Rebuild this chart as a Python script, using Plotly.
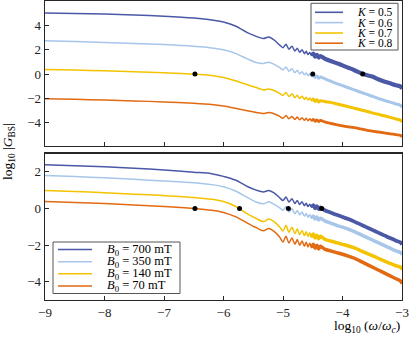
import plotly.graph_objects as go

# ---------------- data ----------------
log_omega = [-9.0, -8.5, -8.0, -7.5, -7.0, -6.5, -6.2, -6.0, -5.8, -5.6, -5.45, -5.33, -5.24, -5.15, -5.06,
             -5.00, -4.95, -4.90, -4.85, -4.80, -4.76, -4.72, -4.68, -4.64, -4.61, -4.58, -4.55, -4.52, -4.49,
             -4.46, -4.43, -4.40, -4.37,
             -4.3, -4.2, -4.1, -4.0, -3.9, -3.8, -3.7, -3.6, -3.5, -3.4, -3.3, -3.2, -3.1, -3.03, -3.0]

k_labels = ["<i>K</i> = 0.5", "<i>K</i> = 0.6", "<i>K</i> = 0.7", "<i>K</i> = 0.8"]
g_K05 = [5.02, 4.98, 4.93, 4.85, 4.75, 4.6, 4.45, 4.27, 3.95, 3.4, 3.1, 2.92, 3.05, 2.8, 2.4,
         2.17, 2.45, 2.04, 2.28, 1.90, 2.13, 1.79, 2.00, 1.68, 1.88, 1.60, 1.78, 1.52, 1.68, 1.44, 1.58, 1.36, 1.48,
         1.28, 1.08, 0.9, 0.72, 0.52, 0.32, 0.1, -0.08, -0.2, -0.42, -0.6, -0.76, -0.92, -1.0, -1.2]
g_K06 = [2.73, 2.68, 2.6, 2.52, 2.42, 2.28, 2.15, 2.0, 1.7, 1.25, 0.95, 0.88, 0.98, 0.8, 0.55,
         0.35, 0.58, 0.24, 0.44, 0.12, 0.32, 0.03, 0.20, -0.06, 0.10, -0.13, 0.02, -0.20, -0.06, -0.27, -0.15, -0.34, -0.23,
         -0.38, -0.58, -0.78, -0.95, -1.12, -1.3, -1.47, -1.65, -1.82, -2.0, -2.15, -2.3, -2.45, -2.55, -2.72]
g_K07 = [0.38, 0.33, 0.27, 0.2, 0.12, 0.0, -0.12, -0.28, -0.55, -0.88, -1.1, -1.3, -1.22, -1.35, -1.58,
         -1.75, -1.51, -1.84, -1.62, -1.93, -1.73, -2.00, -1.82, -2.08, -1.90, -2.13, -1.97, -2.18, -2.04, -2.24, -2.11, -2.29, -2.18,
         -2.25, -2.32, -2.43, -2.55, -2.68, -2.8, -2.92, -3.05, -3.18, -3.3, -3.42, -3.55, -3.68, -3.78, -3.92]
g_K08 = [-2.02, -2.07, -2.13, -2.2, -2.28, -2.4, -2.5, -2.62, -2.8, -3.0, -3.15, -3.24, -3.15, -3.25, -3.45,
         -3.63, -3.40, -3.67, -3.47, -3.72, -3.53, -3.75, -3.58, -3.79, -3.63, -3.82, -3.67, -3.84, -3.71, -3.87, -3.75, -3.90, -3.79,
         -3.92, -4.05, -4.15, -4.25, -4.33, -4.4, -4.5, -4.6, -4.68, -4.75, -4.82, -4.9, -4.97, -5.02, -5.15]

b_labels = ["<i>B</i><sub>0</sub> = 700 mT", "<i>B</i><sub>0</sub> = 350 mT",
            "<i>B</i><sub>0</sub> = 140 mT", "<i>B</i><sub>0</sub> = 70 mT"]
g_B700 = [2.39, 2.33, 2.27, 2.19, 2.1, 1.98, 1.9, 1.75, 1.55, 1.2, 1.0, 0.9, 0.98, 0.85, 0.6,
          0.43, 0.62, 0.35, 0.53, 0.27, 0.44, 0.21, 0.36, 0.15, 0.29, 0.10, 0.23, 0.06, 0.18, 0.01, 0.12, -0.04, 0.06,
          -0.1, -0.22, -0.35, -0.47, -0.58, -0.72, -0.87, -1.02, -1.17, -1.32, -1.47, -1.62, -1.76, -1.85, -1.97]
g_B350 = [1.8, 1.74, 1.67, 1.59, 1.5, 1.4, 1.3, 1.18, 0.95, 0.6, 0.35, 0.25, 0.36, 0.22, 0.05,
          -0.11, 0.10, -0.20, -0.02, -0.29, -0.11, -0.35, -0.20, -0.42, -0.28, -0.48, -0.34, -0.53, -0.41, -0.58, -0.47, -0.63, -0.54,
          -0.68, -0.8, -0.92, -1.02, -1.13, -1.27, -1.42, -1.57, -1.72, -1.87, -2.02, -2.17, -2.32, -2.4, -2.52]
g_B140 = [0.98, 0.92, 0.86, 0.78, 0.7, 0.6, 0.5, 0.38, 0.12, -0.3, -0.55, -0.72, -0.58, -0.72, -1.0,
          -1.23, -0.92, -1.30, -1.03, -1.37, -1.12, -1.43, -1.20, -1.49, -1.27, -1.53, -1.33, -1.57, -1.40, -1.62, -1.46, -1.66, -1.52,
          -1.68, -1.78, -1.87, -1.96, -2.05, -2.16, -2.3, -2.44, -2.58, -2.72, -2.86, -3.0, -3.13, -3.2, -3.32]
g_B70 = [0.38, 0.33, 0.27, 0.19, 0.11, 0.0, -0.1, -0.22, -0.45, -0.8, -1.05, -1.22, -1.1, -1.25, -1.55,
         -1.83, -1.52, -1.89, -1.61, -1.96, -1.70, -2.01, -1.78, -2.06, -1.84, -2.10, -1.90, -2.14, -1.96, -2.17, -2.01, -2.21, -2.07,
         -2.22, -2.32, -2.41, -2.5, -2.6, -2.72, -2.88, -3.04, -3.2, -3.36, -3.52, -3.68, -3.84, -3.95, -4.1]

top_dots_x = [-6.48, -4.50, -3.66]
top_dots_y = [0.0, 0.0, 0.0]
bottom_dots_x = [-6.48, -5.73, -4.91, -4.35]
bottom_dots_y = [0.0, 0.0, 0.0, 0.0]

x_ticks = [-9, -8, -7, -6, -5, -4, -3]
top_y_ticks = [4, 2, 0, -2, -4]
bottom_y_ticks = [2, 0, -2, -4]

# ---------------- style ----------------
colors = ["#4b58a6", "#a7c6ea", "#f3c300", "#e26a12"]
FONT = "Liberation Serif, Times New Roman, serif"
AX = "#262626"
NOISE_FROM = -4.52

fig = go.Figure()

def add_curve(y, color, xa, ya, band):
    fig.add_trace(go.Scatter(x=log_omega, y=y, mode="lines", xaxis=xa, yaxis=ya,
                             line=dict(color=color, width=1.5, shape="spline", smoothing=0.8),
                             showlegend=False, hoverinfo="skip"))
    xs = [x for x in log_omega if x >= NOISE_FROM]
    ys = [v for x, v in zip(log_omega, y) if x >= NOISE_FROM]
    fig.add_trace(go.Scatter(x=xs, y=ys, mode="lines", xaxis=xa, yaxis=ya,
                             line=dict(color=color, width=band, shape="spline", smoothing=0.8),
                             showlegend=False, hoverinfo="skip"))

for y, c, bw in zip([g_K05, g_K06, g_K07, g_K08], colors, [4.2, 3.0, 3.0, 2.8]):
    add_curve(y, c, "x", "y", bw)
for y, c, bw in zip([g_B700, g_B350, g_B140, g_B70], colors, [3.8, 3.5, 3.5, 3.5]):
    add_curve(y, c, "x2", "y2", bw)

fig.add_trace(go.Scatter(x=top_dots_x, y=top_dots_y, mode="markers", xaxis="x", yaxis="y",
                         marker=dict(color="black", size=5), showlegend=False, hoverinfo="skip"))
fig.add_trace(go.Scatter(x=bottom_dots_x, y=bottom_dots_y, mode="markers", xaxis="x2", yaxis="y2",
                         marker=dict(color="black", size=5), showlegend=False, hoverinfo="skip"))

axis_common = dict(showline=True, mirror=True, linecolor=AX, linewidth=1.4, ticks="inside",
                   ticklen=4, tickwidth=1, tickcolor=AX, showgrid=False, zeroline=False,
                   tickfont=dict(family=FONT, size=13, color="#222"))

L, R, T, B = 45, 9, 1, 38
W, H = 411, 338
def px_x(p):
    return (p - L) / (W - L - R)
def px_y(p):
    return (H - B - p) / (H - T - B)

fig.update_layout(
    width=W, height=H, autosize=False,
    margin=dict(l=L, r=R, t=T, b=B),
    plot_bgcolor="white", paper_bgcolor="white",
    xaxis=dict(range=[-9, -3], tickvals=x_ticks, showticklabels=False, anchor="y", **axis_common),
    yaxis=dict(range=[-5.9, 6.0], tickvals=top_y_ticks, domain=[px_y(146), 1.0], anchor="x", **axis_common),
    xaxis2=dict(range=[-9, -3], tickvals=x_ticks, anchor="y2", **axis_common),
    yaxis2=dict(range=[-5, 3], tickvals=bottom_y_ticks, domain=[0.0, px_y(153.5)], anchor="x2", **axis_common),
)

shapes = []
annotations = []

def legend(box, line_x, text_x, rows, labels, fsize):
    shapes.append(dict(type="rect", xref="paper", yref="paper",
                       x0=px_x(box[0]), x1=px_x(box[1]), y0=px_y(box[3]), y1=px_y(box[2]),
                       line=dict(color="#555", width=1), fillcolor="white", layer="above"))
    for yy, lab, col in zip(rows, labels, colors):
        shapes.append(dict(type="line", xref="paper", yref="paper",
                           x0=px_x(line_x[0]), x1=px_x(line_x[1]), y0=px_y(yy), y1=px_y(yy),
                           line=dict(color=col, width=1.6), layer="above"))
        annotations.append(dict(xref="paper", yref="paper", x=px_x(text_x), y=px_y(yy),
                                xanchor="left", yanchor="middle", showarrow=False, text=lab,
                                font=dict(family=FONT, size=fsize, color="black")))

legend((311, 398, 3.3, 50), (315, 343), 355, [12.3, 22.6, 33.0, 43.2], k_labels, 11.5)
legend((53, 180, 242, 293.5), (58, 92), 105, [249.5, 261.7, 273.8, 286.0], b_labels, 12.5)

annotations.append(dict(xref="paper", yref="paper", x=px_x(402), y=px_y(326),
                        xanchor="right", yanchor="middle", showarrow=False,
                        text="log<sub>10</sub> (<i>ω</i>/<i>ω</i><sub><i>c</i></sub>)",
                        font=dict(family=FONT, size=13.5, color="black")))
annotations.append(dict(xref="paper", yref="paper", x=px_x(8), y=px_y(152),
                        xanchor="center", yanchor="middle", showarrow=False, textangle=-90,
                        text="log<sub>10</sub> |<i>G</i><sub>BS</sub>|",
                        font=dict(family=FONT, size=13.5, color="black")))

fig.update_layout(shapes=shapes, annotations=annotations)
fig.write_html("out.html", config={"displayModeBar": False, "staticPlot": True},
               post_script="document.body.style.margin='0px';")
